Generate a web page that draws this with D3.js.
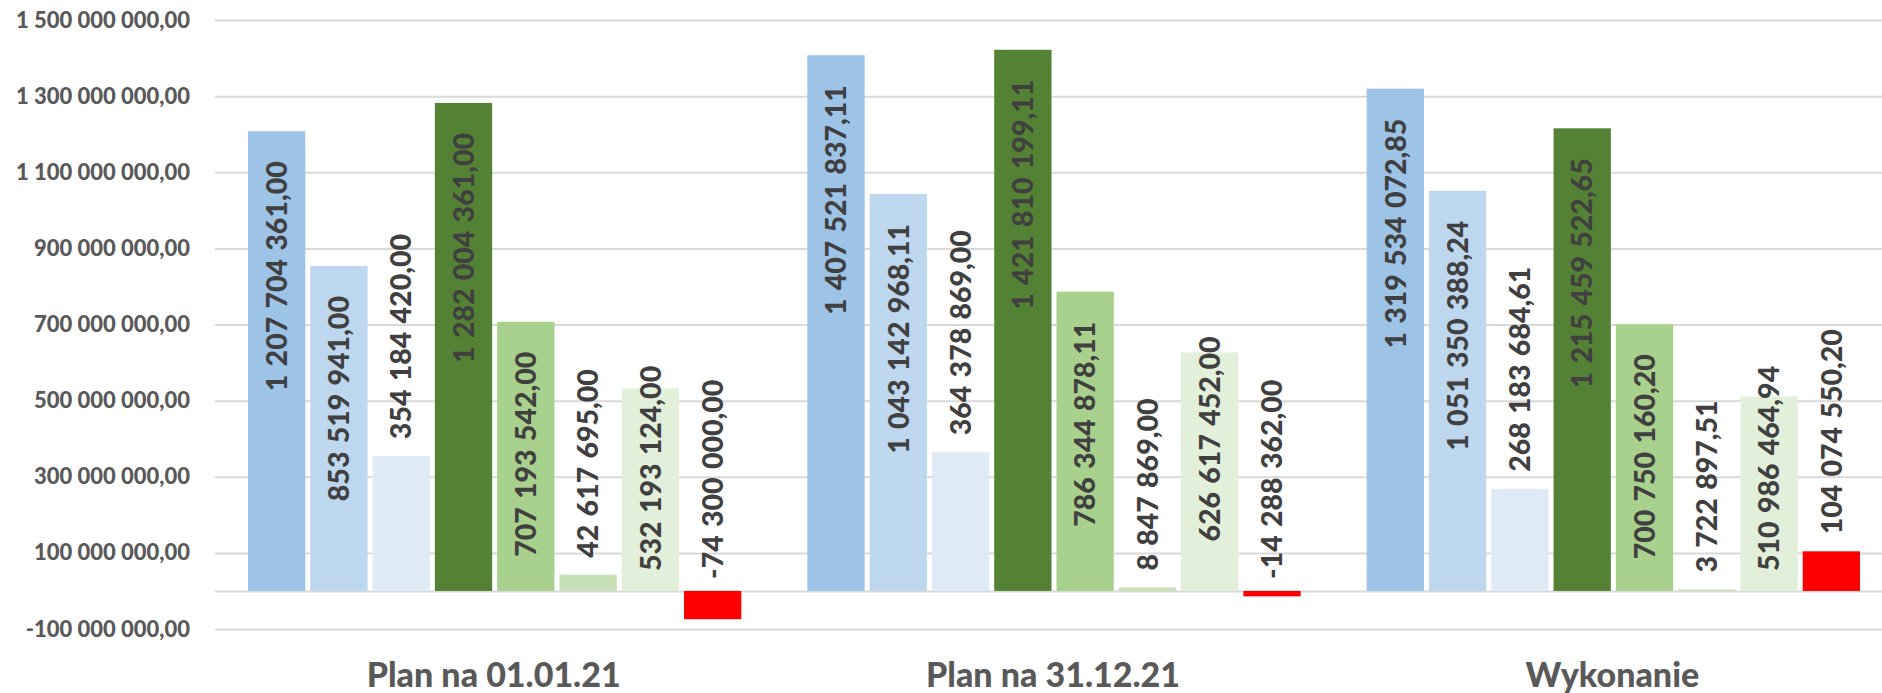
<!DOCTYPE html>
<html>
<head>
<meta charset="utf-8">
<script src="https://cdn.jsdelivr.net/npm/d3@7/dist/d3.min.js"></script>
<style>
  html, body { margin: 0; padding: 0; background: #ffffff; }
  svg { display: block; }
</style>
</head>
<body>
<svg id="chart" width="1882" height="693"></svg>
<script>
// ---- data ----
const categories = ["Plan na 01.01.21", "Plan na 31.12.21", "Wykonanie"];
const seriesNames = ["s1", "s2", "s3", "s4", "s5", "s6", "s7", "s8"];
const s1 = [1207704361.00, 1407521837.11, 1319534072.85];
const s2 = [853519941.00, 1043142968.11, 1051350388.24];
const s3 = [354184420.00, 364378869.00, 268183684.61];
const s4 = [1282004361.00, 1421810199.11, 1215459522.65];
const s5 = [707193542.00, 786344878.11, 700750160.20];
const s6 = [42617695.00, 8847869.00, 3722897.51];
const s7 = [532193124.00, 626617452.00, 510986464.94];
const s8 = [-74300000.00, -14288362.00, 104074550.20];
const seriesColors = ["#9DC3E6", "#BDD7EE", "#DEEBF7", "#548235", "#A9D18E", "#C5E0B4", "#E2F0D9", "#FF0000"];
const yTicks = [-100000000, 100000000, 300000000, 500000000, 700000000, 900000000, 1100000000, 1300000000, 1500000000];

const seriesValues = [s1, s2, s3, s4, s5, s6, s7, s8];

// ---- setup ----
const W = 1882, H = 693;
const svg = d3.select("#chart");
const locale = d3.formatLocale({ decimal: ",", thousands: " ", grouping: [3], currency: ["", ""], minus: "-" });
const fmt = locale.format(",.2f");
const FONT = "Lato, 'Open Sans', sans-serif";

const y = d3.scaleLinear().domain([-100000000, 1500000000]).range([629, 20]);
const x0 = d3.scaleBand().domain(categories).range([215, 1893]).paddingInner(0).paddingOuter(0);
const x1 = d3.scaleBand().domain(seriesNames).range([33, x0.bandwidth() - 33]).paddingInner(0.08).paddingOuter(0);

// gridlines
const grid = svg.append("g").attr("transform", "translate(215,0)")
  .call(d3.axisRight(y).tickValues(yTicks.concat([0])).tickSize(W - 215).tickFormat(""));
grid.select(".domain").remove();
grid.selectAll("line").attr("stroke", "#d9d9d9").attr("stroke-width", 2);

// y-axis labels
const yAxis = svg.append("g").attr("transform", "translate(190,0)")
  .call(d3.axisLeft(y).tickValues(yTicks).tickSize(0).tickPadding(0).tickFormat(fmt));
yAxis.select(".domain").remove();
yAxis.selectAll("text")
  .attr("font-family", FONT)
  .attr("font-weight", 900)
  .attr("font-size", 22)
  .attr("fill", "#595959");

// bars
const rows = [];
categories.forEach((c, ci) => {
  seriesNames.forEach((s, si) => {
    rows.push({ cat: c, ser: s, si: si, v: seriesValues[si][ci] });
  });
});

svg.append("g").selectAll("rect").data(rows).join("rect")
  .attr("x", d => x0(d.cat) + x1(d.ser))
  .attr("width", x1.bandwidth())
  .attr("y", d => Math.min(y(d.v), y(0)))
  .attr("height", d => Math.abs(y(d.v) - y(0)))
  .attr("fill", d => seriesColors[d.si]);

// data labels (rotated)
const zero = y(0);
svg.append("g").selectAll("text").data(rows).join("text")
  .attr("font-family", FONT)
  .attr("font-weight", 900)
  .attr("font-size", 28.5)
  .attr("word-spacing", 1.5)
  .attr("fill", "#404040")
  .attr("text-anchor", "start")
  .attr("dy", "0.36em")
  .text(d => fmt(d.v))
  .each(function (d) {
    const len = this.getComputedTextLength();
    const cx = x0(d.cat) + x1(d.ser) + x1.bandwidth() / 2;
    const top = y(d.v);
    const h = zero - top;
    let bottom;
    if (d.v < 0) {
      bottom = zero - 12;
    } else if (top + 30 + len <= zero - 20) {
      bottom = top + 30 + len;
    } else if (h >= len * 0.85) {
      bottom = Math.min(top - 16 + len, zero - 20);
    } else {
      bottom = top - 17;
    }
    d3.select(this).attr("transform", `translate(${cx},${bottom}) rotate(-90)`);
  });

// category labels
svg.append("g").selectAll("text").data(categories).join("text")
  .attr("x", d => x0(d) + x0.bandwidth() / 2 - 1)
  .attr("y", 687)
  .attr("text-anchor", "middle")
  .attr("font-family", FONT)
  .attr("font-weight", 900)
  .attr("font-size", 34)
  .attr("fill", "#595959")
  .text(d => d);
</script>
</body>
</html>
